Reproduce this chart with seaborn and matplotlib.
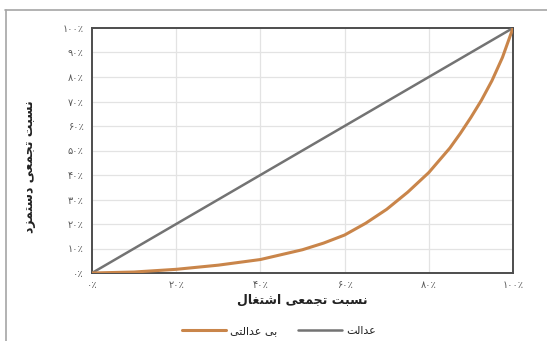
import matplotlib
matplotlib.use("Agg")
import matplotlib.pyplot as plt
from matplotlib.lines import Line2D
import pandas as pd
import seaborn as sns

# Cumulative share of employment (x) and of wages (y), in percent
employment_share = [0, 10, 20, 30, 40, 50, 55, 60, 65, 70, 75, 80, 85,
                    87.5, 90, 92.5, 95, 97.5, 100]
wage_share = [0, 0.4, 1.5, 3.2, 5.5, 9.5, 12.2, 15.5, 20.3, 26, 33, 41, 51,
              57, 63.5, 70.5, 78.5, 88, 100]

# Line of perfect equality
equality_x = [0, 100]
equality_y = [0, 100]

x_ticks = [0, 20, 40, 60, 80, 100]
y_ticks = [0, 10, 20, 30, 40, 50, 60, 70, 80, 90, 100]

x_label = "نسبت تجمعی اشتغال"
y_label = "نسبت تجمعی دستمزد"
label_curve = "بی عدالتی"
label_equal = "عدالت"

# Contextual Arabic-script forms: isolated, final, initial, medial
FORMS = {
    "ا": ("\uFE8D", "\uFE8E", None, None),
    "ب": ("\uFE8F", "\uFE90", "\uFE91", "\uFE92"),
    "ت": ("\uFE95", "\uFE96", "\uFE97", "\uFE98"),
    "ج": ("\uFE9D", "\uFE9E", "\uFE9F", "\uFEA0"),
    "د": ("\uFEA9", "\uFEAA", None, None),
    "ز": ("\uFEAF", "\uFEB0", None, None),
    "س": ("\uFEB1", "\uFEB2", "\uFEB3", "\uFEB4"),
    "ش": ("\uFEB5", "\uFEB6", "\uFEB7", "\uFEB8"),
    "ع": ("\uFEC9", "\uFECA", "\uFECB", "\uFECC"),
    "غ": ("\uFECD", "\uFECE", "\uFECF", "\uFED0"),
    "ل": ("\uFEDD", "\uFEDE", "\uFEDF", "\uFEE0"),
    "م": ("\uFEE1", "\uFEE2", "\uFEE3", "\uFEE4"),
    "ن": ("\uFEE5", "\uFEE6", "\uFEE7", "\uFEE8"),
    "ی": ("\uFEEF", "\uFEF0", "\uFEF3", "\uFEF4"),
}


def shape(text):
    """Join letters into their contextual forms and order them for LTR drawing."""
    chars = list(text)
    out = []
    for i, c in enumerate(chars):
        if c not in FORMS:
            out.append(c)
            continue
        prev = chars[i - 1] if i > 0 else None
        nxt = chars[i + 1] if i + 1 < len(chars) else None
        joins_prev = prev in FORMS and FORMS[prev][2] is not None
        joins_next = FORMS[c][2] is not None and nxt in FORMS
        iso, fin, ini, med = FORMS[c]
        if joins_prev and joins_next:
            out.append(med)
        elif joins_prev:
            out.append(fin)
        elif joins_next:
            out.append(ini)
        else:
            out.append(iso)
    return "".join(reversed(out))


PERSIAN_DIGITS = str.maketrans("0123456789", "۰۱۲۳۴۵۶۷۸۹")


def pct(v):
    return f"{v}".translate(PERSIAN_DIGITS) + "٪"


sns.set_style("white")
plt.rcParams["font.family"] = ["DejaVu Sans"]

fig = plt.figure(figsize=(5.47, 3.41), dpi=100)
ax = fig.add_axes([92 / 547, 1 - 273 / 341, (513 - 92) / 547, (273 - 28) / 341])

curve_df = pd.DataFrame({"x": employment_share, "y": wage_share})
equal_df = pd.DataFrame({"x": equality_x, "y": equality_y})

orange = "#c9854a"
gray = "#737373"

sns.lineplot(data=equal_df, x="x", y="y", ax=ax, color=gray, linewidth=1.8,
             label=shape(label_equal), zorder=3)
sns.lineplot(data=curve_df, x="x", y="y", ax=ax, color=orange, linewidth=2.2,
             label=shape(label_curve), zorder=4)

ax.set_xlim(0, 100)
ax.set_ylim(0, 100)
ax.set_xticks(x_ticks)
ax.set_yticks(y_ticks)
ax.set_xticklabels([pct(v) for v in x_ticks], fontsize=7, color="#595959")
ax.set_yticklabels([pct(v) for v in y_ticks], fontsize=7, color="#595959")
ax.tick_params(axis="both", length=0, pad=6)
ax.tick_params(axis="x", pad=5)

for v in y_ticks[1:-1]:
    ax.axhline(v, color="#e3e3e3", linewidth=0.9, zorder=1)
for v in x_ticks[1:-1]:
    ax.axvline(v, color="#e3e3e3", linewidth=0.9, zorder=1)

for side in ["left", "right", "top", "bottom"]:
    ax.spines[side].set_visible(True)
    ax.spines[side].set_color("#4d4d4d")
    ax.spines[side].set_linewidth(1.4)

ax.set_xlabel(shape(x_label), fontsize=9, fontweight="bold", color="#222222", labelpad=3)
ax.set_ylabel("")
fig.text(30 / 547, 1 - 167 / 341, shape(y_label), rotation=90, fontsize=9,
         fontweight="bold", color="#222222", ha="center", va="center")

handles, labels = ax.get_legend_handles_labels()
order = [1, 0]
ax.legend([handles[i] for i in order], [labels[i] for i in order],
          loc="center", bbox_to_anchor=((279 - 92) / 421, -0.235), ncol=2,
          frameon=False, fontsize=8, handlelength=4, columnspacing=1.8,
          handletextpad=0.4)

# Outer chart border (top and left edges)
fig.add_artist(Line2D([5 / 547, 1], [1 - 10 / 341] * 2, transform=fig.transFigure,
                      color="#a6a6a6", linewidth=1.2))
fig.add_artist(Line2D([6 / 547] * 2, [0, 1 - 10 / 341], transform=fig.transFigure,
                      color="#a6a6a6", linewidth=1.2))

fig.savefig("out.png", dpi=100)
